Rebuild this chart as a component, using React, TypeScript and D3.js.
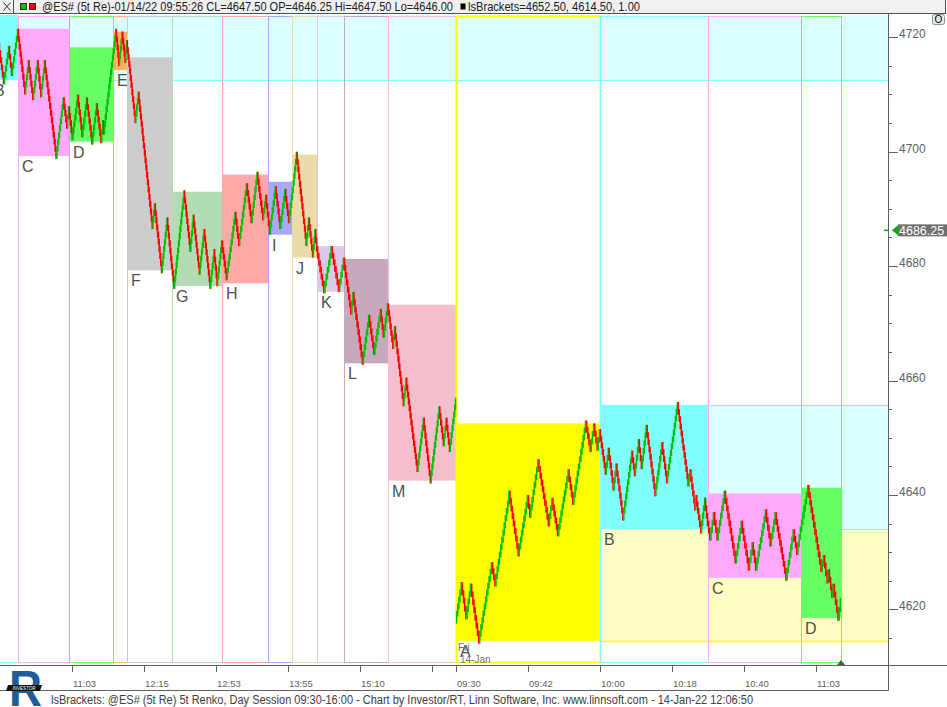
import React from 'react';
import * as d3 from 'd3';

const brickSize = 1.25;

// bracket periods (previous day B..M, then today A..D)
const periodLetters = ['B', 'C', 'D', 'E', 'F', 'G', 'H', 'I', 'J', 'K', 'L', 'M', 'A', 'B', 'C', 'D'];
const periodStarts = [-9, 18, 69, 113, 127, 172, 222, 268, 292, 317, 344, 388, 456, 600, 708, 801];
const lastBar = 841;
const periodHighs = [4727, 4721.5, 4718.25, 4721, 4716.5, 4693, 4696, 4694.75, 4699.5, 4683.5, 4681.25, 4673.25, 4652.5, 4655.75, 4640.25, 4641.25];
const periodLows = [4712.5, 4699.25, 4701.75, 4714.25, 4679.25, 4676.5, 4677, 4685.5, 4681.5, 4675.5, 4663, 4642.5, 4614.5, 4634, 4625.5, 4618.5];
const periodColors = ['#80FFFF', '#FFAAFF', '#66FF66', '#FFB06A', '#CCCCCC', '#B4DCB4', '#FFA8A8', '#A8A8FF', '#EADBA8', '#DCC8E8', '#C8A8BC', '#F4BECC', '#FFFF00', '#80FFFF', '#FFAAFF', '#66FF66'];

// initial balance periods that are carried to the right
const extendedPeriods = [0, 12, 13];
const extendedColors = ['#DCFFFF', '#FFFFC4', '#DCFFFF'];

// swing prices of the renko path inside each period
const periodSwings: number[][] = [
  [4717, 4721.5, 4718.5, 4719.75, 4712.25, 4718, 4713.75, 4721],
  [4721, 4710.5, 4715.5, 4709.5, 4715.5, 4710, 4715.5, 4699.25, 4709, 4704.5, 4707.5],
  [4707.5, 4702.5, 4709.5, 4703, 4709, 4701.75, 4708, 4702, 4705, 4703.5, 4716.5],
  [4716.5, 4721, 4715.5, 4720.5, 4716, 4719],
  [4719, 4705.5, 4710, 4687, 4690.5, 4679.25, 4688, 4680],
  [4680, 4676.5, 4692.75, 4683, 4688.5, 4679, 4686, 4676.5, 4682.5, 4677, 4684],
  [4684, 4678, 4689, 4684, 4694, 4688, 4696, 4688.5, 4692, 4689],
  [4689, 4686, 4693.5, 4687, 4693, 4688, 4692],
  [4692, 4699.5, 4684, 4688, 4682, 4686, 4683],
  [4683, 4675.75, 4683, 4676, 4681],
  [4681, 4672, 4675, 4663.25, 4671, 4665, 4672, 4668, 4673],
  [4673, 4666, 4669, 4656, 4660, 4649, 4644.5, 4653, 4642.5, 4655, 4649, 4653, 4648, 4656.5],
  [4618, 4624.25, 4618.75, 4624, 4618.5, 4614.5, 4627.75, 4624.5, 4638.5, 4640.25, 4629.75, 4639.5, 4636.5, 4645.75, 4635, 4639, 4633.25, 4644, 4638.75, 4652.5, 4648, 4652, 4648.25, 4651],
  [4651, 4644, 4647.75, 4641.25, 4645, 4636, 4647.25, 4643.75, 4649.25, 4645, 4651.75, 4640.25, 4648.75, 4642.5, 4655.75, 4642, 4644, 4637.75, 4639.5, 4633.75, 4639, 4635],
  [4635, 4632.5, 4636.5, 4632.5, 4640.25, 4628.5, 4635, 4627.25, 4631.25, 4627.25, 4637, 4631.5, 4636.5, 4625.5, 4633.5, 4630, 4634],
  [4634, 4641.25, 4627, 4629, 4625, 4626.5, 4622.5, 4624, 4618.5, 4621.5],
];

const priceTicks = [4620, 4640, 4660, 4680, 4700, 4720];
const minorTicks = [4615, 4625, 4630, 4635, 4645, 4650, 4655, 4665, 4670, 4675, 4685, 4690, 4695, 4705, 4710, 4715];
const timeTickBars = [72, 144, 216, 288, 360, 432, 456, 528, 600, 672, 744, 816];
const timeTickLabels = ['11:03', '12:15', '12:53', '13:55', '15:10', '', '09:30', '09:42', '10:00', '10:18', '10:40', '11:03'];
const cursorPrice = 4686.25;

const headerText = '@ES# (5t Re)-01/14/22 09:55:26 CL=4647.50 OP=4646.25 Hi=4647.50 Lo=4646.00';
const headerStudy = 'lsBrackets=4652.50, 4614.50, 1.00';
const footerText = 'lsBrackets: @ES# (5t Re) 5t Renko, Day Session 09:30-16:00 - Chart by Investor/RT, Linn Software, Inc. www.linnsoft.com - 14-Jan-22 12:06:50';

const W = 947;
const H = 707;

function buildBricks(swings: number[]) {
  const out: { open: number; close: number }[] = [];
  for (let k = 1; k < swings.length; k++) {
    const a = swings[k - 1];
    const b = swings[k];
    const n = Math.max(1, Math.round(Math.abs(b - a) / brickSize));
    const step = (b - a) / n;
    for (let j = 0; j < n; j++) out.push({ open: a + step * j, close: a + step * (j + 1) });
  }
  return out;
}

const App: React.FC = () => {
  const svgRef = React.useRef<SVGSVGElement>(null);

  React.useEffect(() => {
    if (!svgRef.current) return;
    const svg = d3.select(svgRef.current);
    svg.selectAll('*').remove();

    const plot = { left: 0, right: 888, top: 15, bottom: 663 };
    const font = "'Liberation Sans', Arial, sans-serif";

    const x = d3.scaleLinear().domain([0, 888]).range([plot.left, plot.right]);
    const y = d3.scaleLinear().domain([4620, 4720]).range([609.3, 37.3]);
    const periodEnd = (i: number) => (i + 1 < periodStarts.length ? periodStarts[i + 1] : lastBar);

    svg.append('rect').attr('width', W).attr('height', H).attr('fill', '#fff');

    svg.append('defs').append('clipPath').attr('id', 'plotClip')
      .append('rect')
      .attr('x', plot.left).attr('y', plot.top)
      .attr('width', plot.right - plot.left).attr('height', plot.bottom - plot.top);

    const g = svg.append('g').attr('clip-path', 'url(#plotClip)');

    // carried brackets
    extendedPeriods.forEach((p, k) => {
      const x0 = x(periodEnd(p));
      g.append('rect')
        .attr('x', x0).attr('y', y(periodHighs[p]))
        .attr('width', plot.right - x0)
        .attr('height', y(periodLows[p]) - y(periodHighs[p]))
        .attr('fill', extendedColors[k]);
      [periodHighs[p], periodLows[p]].forEach(v => {
        g.append('line')
          .attr('x1', x0).attr('x2', plot.right)
          .attr('y1', Math.round(y(v)) + 0.5).attr('y2', Math.round(y(v)) + 0.5)
          .attr('stroke', periodColors[p]).attr('stroke-width', p === 12 ? 1.5 : 1);
      });
    });

    // period brackets
    periodLetters.forEach((_, i) => {
      const x0 = x(periodStarts[i]);
      const x1 = x(periodEnd(i));
      g.append('rect')
        .attr('x', x0).attr('y', y(periodHighs[i]))
        .attr('width', x1 - x0)
        .attr('height', y(periodLows[i]) - y(periodHighs[i]))
        .attr('fill', periodColors[i]);
    });

    // period frames
    periodLetters.forEach((_, i) => {
      const x0 = Math.round(x(periodStarts[i])) + 0.5;
      const x1 = Math.round(x(periodEnd(i))) + 0.5;
      g.append('rect')
        .attr('x', x0).attr('y', plot.top + 1.5)
        .attr('width', x1 - x0).attr('height', plot.bottom - plot.top - 2)
        .attr('fill', 'none')
        .attr('stroke', periodColors[i])
        .attr('stroke-width', i === 12 ? 2 : 1);
    });

    // renko bars
    periodSwings.forEach((sw, i) => {
      const bricks = buildBricks(sw);
      const start = periodStarts[i];
      const step = (periodEnd(i) - start) / bricks.length;
      const bw = Math.max(1.5, (x(step) - x(0)) * 1.15);
      g.selectAll(null)
        .data(bricks)
        .enter().append('rect')
        .attr('x', (_, j) => x(start + step * (j + 0.5)) - bw / 2)
        .attr('width', bw)
        .attr('y', d => y(Math.max(d.open, d.close) + 0.5))
        .attr('height', d => y(Math.min(d.open, d.close) - 0.5) - y(Math.max(d.open, d.close) + 0.5))
        .attr('fill', d => (d.close > d.open ? '#00C000' : '#FF0000'));
    });

    // end marker
    svg.append('path')
      .attr('d', `M${x(lastBar) - 4},${plot.bottom + 2} L${x(lastBar)},${plot.bottom - 3} L${x(lastBar) + 4},${plot.bottom + 2} Z`)
      .attr('fill', '#555');

    // period letters
    periodLetters.forEach((letter, i) => {
      svg.append('text')
        .attr('x', i === 0 ? -6 : x(periodStarts[i]) + 4)
        .attr('y', i === 0 ? 96 : y(periodLows[i]) + 16)
        .attr('font-family', font)
        .attr('font-size', 16)
        .attr('fill', '#505050')
        .text(letter);
    });
    svg.append('text')
      .attr('x', x(periodStarts[12]) + 2).attr('y', 651)
      .attr('font-family', font).attr('font-size', 10).attr('fill', '#707070')
      .text('Fri');
    svg.append('text')
      .attr('x', x(periodStarts[12]) + 4).attr('y', 663)
      .attr('font-family', font).attr('font-size', 10).attr('fill', '#707070')
      .text('14-Jan');

    // axes frame
    const axisColor = '#606060';
    svg.append('line').attr('x1', 0).attr('x2', W).attr('y1', 665.5).attr('y2', 665.5).attr('stroke', axisColor);
    svg.append('line').attr('x1', 0).attr('x2', 888.5).attr('y1', 690.5).attr('y2', 690.5).attr('stroke', axisColor);
    svg.append('line').attr('x1', 888.5).attr('x2', 888.5).attr('y1', 14).attr('y2', 690.5).attr('stroke', axisColor);

    // price axis
    priceTicks.forEach(v => {
      const yy = Math.round(y(v)) + 0.5;
      svg.append('line').attr('x1', 888.5).attr('x2', 898).attr('y1', yy).attr('y2', yy).attr('stroke', axisColor);
      svg.append('text')
        .attr('x', 899).attr('y', yy)
        .attr('font-family', "'Liberation Sans Narrow', 'Liberation Sans', sans-serif")
        .attr('font-size', 12).attr('fill', '#606060')
        .text(v);
    });
    minorTicks.forEach(v => {
      const yy = Math.round(y(v)) + 0.5;
      svg.append('line').attr('x1', 888.5).attr('x2', 892).attr('y1', yy).attr('y2', yy).attr('stroke', axisColor);
    });

    // cursor price tag
    const cy = y(cursorPrice);
    svg.append('line').attr('x1', 884).attr('x2', 888).attr('y1', cy).attr('y2', cy).attr('stroke', '#00B000').attr('stroke-width', 1.5);
    svg.append('path').attr('d', `M892,${cy} L898,${cy - 5} L898,${cy + 5} Z`).attr('fill', '#00B000');
    svg.append('rect').attr('x', 898).attr('y', cy - 6).attr('width', 49).attr('height', 12).attr('fill', '#707070');
    svg.append('text')
      .attr('x', 899).attr('y', cy + 4.5)
      .attr('font-family', font).attr('font-size', 12.5).attr('fill', '#fff')
      .text(cursorPrice.toFixed(2));

    // time axis
    timeTickBars.forEach((b, i) => {
      const xx = Math.round(x(b)) + 0.5;
      svg.append('line').attr('x1', xx).attr('x2', xx).attr('y1', 666).attr('y2', 672).attr('stroke', axisColor);
      if (timeTickLabels[i]) {
        svg.append('text')
          .attr('x', xx + 0.5).attr('y', 687)
          .attr('font-family', font).attr('font-size', 9.5).attr('fill', '#606060')
          .text(timeTickLabels[i]);
      }
    });

    // header bar
    svg.append('rect').attr('x', 0).attr('y', 0).attr('width', 945).attr('height', 13.5).attr('fill', '#F0F0F0');
    svg.append('line').attr('x1', 0).attr('x2', 945).attr('y1', 13.5).attr('y2', 13.5).attr('stroke', '#505050');
    svg.append('line').attr('x1', 945.5).attr('x2', 945.5).attr('y1', 0).attr('y2', 14).attr('stroke', '#505050');
    svg.append('line').attr('x1', 13.5).attr('x2', 13.5).attr('y1', 0).attr('y2', 13.5).attr('stroke', '#505050');
    svg.append('path').attr('d', 'M3.5,2.5 L10.5,10.5 M10.5,2.5 L3.5,10.5').attr('stroke', '#303030').attr('stroke-width', 1);
    svg.append('rect').attr('x', 20.5).attr('y', 3.5).attr('width', 6).attr('height', 6).attr('fill', '#00C000').attr('stroke', '#303030');
    svg.append('rect').attr('x', 29.5).attr('y', 3.5).attr('width', 6).attr('height', 6).attr('fill', '#FF0000').attr('stroke', '#303030');
    svg.append('text')
      .attr('x', 42).attr('y', 11)
      .attr('font-family', font).attr('font-size', 12).attr('fill', '#202020')
      .attr('textLength', 411).attr('lengthAdjust', 'spacingAndGlyphs')
      .text(headerText);
    svg.append('rect').attr('x', 460.5).attr('y', 3.5).attr('width', 5).attr('height', 6).attr('fill', '#000');
    svg.append('text')
      .attr('x', 468).attr('y', 11)
      .attr('font-family', font).attr('font-size', 12).attr('fill', '#202020')
      .attr('textLength', 172).attr('lengthAdjust', 'spacingAndGlyphs')
      .text(headerStudy);

    // small button at top of price axis
    svg.append('rect').attr('x', 932.5).attr('y', 14.5).attr('width', 12).attr('height', 10).attr('rx', 2)
      .attr('fill', '#E8E8E8').attr('stroke', '#909090');
    svg.append('text').attr('x', 938.5).attr('y', 23).attr('text-anchor', 'middle')
      .attr('font-family', font).attr('font-size', 10).attr('fill', '#000').text('O');

    // footer
    svg.append('text')
      .attr('x', 51).attr('y', 703.5)
      .attr('font-family', font).attr('font-size', 12).attr('fill', '#404040')
      .attr('textLength', 702).attr('lengthAdjust', 'spacingAndGlyphs')
      .text(footerText);

    // logo
    const logo = svg.append('g');
    logo.append('text')
      .attr('x', 9).attr('y', 706)
      .attr('font-family', "'Liberation Sans', sans-serif").attr('font-weight', 'bold')
      .attr('font-size', 50).attr('fill', '#1E5C9A')
      .attr('textLength', 33).attr('lengthAdjust', 'spacingAndGlyphs')
      .text('R');
    logo.append('path').attr('d', 'M8,685 L42,685 L40,691 L6,691 Z').attr('fill', '#101010');
    logo.append('text').attr('x', 24).attr('y', 690).attr('text-anchor', 'middle')
      .attr('font-family', font).attr('font-size', 4.5).attr('font-style', 'italic').attr('fill', '#fff')
      .text('INVESTOR');
  }, []);

  return (
    <svg
      ref={svgRef}
      width={W}
      height={H}
      style={{ position: 'absolute', left: 0, top: 0, display: 'block' }}
    />
  );
};

export default App;
